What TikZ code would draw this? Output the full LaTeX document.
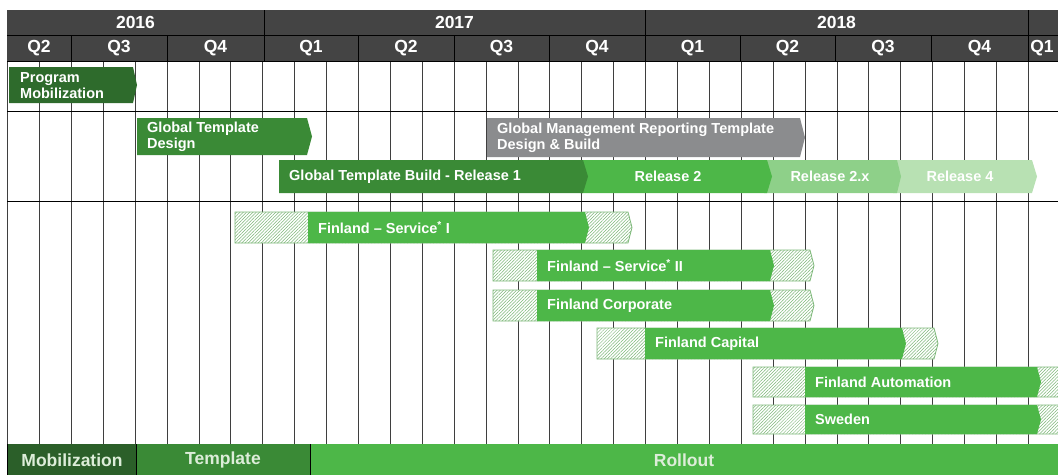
\documentclass[tikz,border=0pt]{standalone}
\usepackage{fontspec}
\setmainfont{Liberation Sans}
\usetikzlibrary{patterns.meta}
\definecolor{hdr}{HTML}{444444}
\definecolor{gdark}{HTML}{2E6B2C}
\definecolor{gdarkband}{HTML}{2B5F29}
\definecolor{gmid}{HTML}{3A8A36}
\definecolor{gbright}{HTML}{4DB748}
\definecolor{grelx}{HTML}{8ED089}
\definecolor{grelf}{HTML}{B8E1B3}
\definecolor{ggray}{HTML}{8B8C8E}
\definecolor{hatchc}{HTML}{7DB879}
\definecolor{gridc}{HTML}{3F3F3F}
\definecolor{btxt}{HTML}{DDEDD9}
\newcommand{\chevfill}[6]{%
  \path[#1] (#2,#4) -- (#3,#4) -- ({#3+#6},{(#4+#5)/2}) -- (#3,#5) -- (#2,#5) -- cycle;}
\newcommand{\rollbar}[8]{%
  \chevfill{hatchbox}{#2}{#5}{#6}{#7}{4}
  \chevfill{solidbar}{#3}{#4}{#6}{#7}{4}
  \node[barlabel, anchor=west] (#1) at ({#3+10},{(#6+#7)/2}) {#8};}
\begin{document}
\begin{tikzpicture}[x=1pt,y=-1pt,
  hdrtext/.style={text=white, font=\bfseries\fontsize{17.5}{19}\selectfont, inner sep=0pt},
  barlabel/.style={text=white, font=\bfseries\fontsize{14.5}{16}\selectfont, inner sep=0pt, align=left},
  bandtext/.style={text=btxt, font=\bfseries\fontsize{17.5}{19}\selectfont, inner sep=0pt},
  gridline/.style={draw=gridc, line width=0.8pt},
  hdrline/.style={draw=black, line width=1pt},
  hatchbox/.style={preaction={fill=white}, pattern={Lines[angle=45,distance=2.3pt,line width=0.5pt]}, pattern color=hatchc, draw=hatchc, line width=0.8pt},
  solidbar/.style={fill=gbright}]
\useasboundingbox (0,0) rectangle (1058,475);
\clip (0,0) rectangle (1058,475);
% header
\fill[hdr] (7,10) rectangle (1070,61);
\draw[hdrline] (7,35) -- (1070,35);
\foreach \xx in {264,645,1028} \draw[hdrline] (\xx,10) -- (\xx,35);
\foreach \xx in {71,167,264,358,454,549,645,740,835,931,1028} \draw[hdrline] (\xx,35) -- (\xx,61);
\node[hdrtext] (y16) at (135.5,22.5) {2016};
\node[hdrtext] (y17) at (454.5,22.5) {2017};
\node[hdrtext] (y18) at (836.5,22.5) {2018};
\node[hdrtext] (q1) at (39,48) {Q2};
\node[hdrtext] (q2) at (119,48) {Q3};
\node[hdrtext] (q3) at (215.5,48) {Q4};
\node[hdrtext] (q4) at (311,48) {Q1};
\node[hdrtext] (q5) at (406,48) {Q2};
\node[hdrtext] (q6) at (501.5,48) {Q3};
\node[hdrtext] (q7) at (597,48) {Q4};
\node[hdrtext] (q8) at (692.5,48) {Q1};
\node[hdrtext] (q9) at (787.5,48) {Q2};
\node[hdrtext] (q10) at (883,48) {Q3};
\node[hdrtext] (q11) at (979.5,48) {Q4};
\node[hdrtext] (q12) at (1042,48) {Q1};
% grid
\foreach \i in {0,...,33} \draw[gridline] ({7.5+31.9*\i},61) -- ({7.5+31.9*\i},444);
\foreach \yy in {61,111,201,444} \draw[hdrline] (7,\yy) -- (1070,\yy);
% bottom band
\fill[gdarkband] (7,444) rectangle (136,475);
\fill[gmid] (136,444) rectangle (310,475);
\fill[gbright] (310,444) rectangle (1070,475);
\draw[black, line width=0.8pt] (7,444) -- (7,475) (136,444) -- (136,475) (310,444) -- (310,475);
\node[bandtext] (bmob) at (72,460) {Mobilization};
\node[bandtext] (btpl) at (223,460) {Template};
\node[bandtext] (broll) at (684,460) {Rollout};
% mobilization / template
\chevfill{fill=gdark}{9}{133}{67}{103}{4}
\node[barlabel, anchor=west] (pm) at (20,86) {Program\\Mobilization};
\chevfill{fill=gmid}{137}{307}{118}{155}{5}
\node[barlabel, anchor=west] (gtd) at (147,137) {Global Template\\Design};
\chevfill{fill=ggray}{487}{800}{118}{157}{5}
\node[barlabel, anchor=west] (gmr) at (497,138) {Global Management Reporting Template\\Design \& Build};
% releases
\chevfill{fill=grelf}{893}{1032}{160}{193}{5}
\chevfill{fill=grelx}{764}{897}{160}{193}{4}
\chevfill{fill=gbright}{580}{767}{160}{193}{5}
\chevfill{fill=gmid}{279}{583}{160}{193}{5}
\node[barlabel, anchor=west] (r1) at (289,176.5) {Global Template Build - Release 1};
\node[barlabel] (r2) at (668,176.5) {Release 2};
\node[barlabel] (r2x) at (830,176.5) {Release 2.x};
\node[barlabel] (r4) at (960,176.5) {Release 4};
% rollout
\rollbar{fs1}{235}{308}{585}{628}{212}{243}{Finland – Service\textsuperscript{*} I}
\rollbar{fs2}{493}{537}{770}{810}{250}{281}{Finland – Service\textsuperscript{*} II}
\rollbar{fco}{493}{537}{770}{810}{290}{321}{Finland Corporate}
\rollbar{fca}{597}{645}{902}{934}{328}{359}{Finland Capital}
\rollbar{fau}{753}{805}{1037}{1075}{367}{397}{Finland Automation}
\rollbar{swe}{753}{805}{1037}{1075}{405}{434}{Sweden}
\end{tikzpicture}
\end{document}
